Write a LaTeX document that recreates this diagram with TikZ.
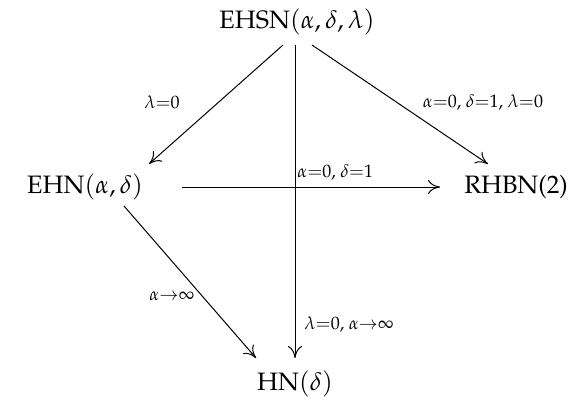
\documentclass[tikz,border=0pt]{standalone}
\usepackage[T1]{fontenc}
\usepackage{mathpazo}
\usetikzlibrary{arrows.meta}
\begin{document}
\begin{tikzpicture}[x=0.5pt,y=-0.5pt,
  obj/.style={font=\fontsize{12.6}{15}\selectfont, inner sep=2pt},
  lab/.style={font=\small, inner sep=1pt},
  arr/.style={-{To[length=6pt,width=7pt]}, line width=0.5pt}]
\useasboundingbox (0,0) rectangle (571,412);
\node[obj] (ehsn) at (297,22) {EHSN$(\alpha,\delta,\lambda)$};
\node[obj] (ehn) at (85,187) {EHN$(\alpha,\delta)$};
\node[obj] (rhbn) at (516,187) {RHBN(2)};
\node[obj] (hn) at (295,384) {HN$(\delta)$};
\coordinate (t1) at (283,45);
\coordinate (t2) at (312,45);
\coordinate (t3) at (295,45);
\coordinate (e1) at (149,164);
\coordinate (e2) at (488,164);
\coordinate (e3) at (295,358);
\coordinate (h1) at (182,187);
\coordinate (h2) at (440,187);
\coordinate (d1) at (124,206);
\coordinate (d2) at (256,358);
\draw[arr] (t1) -- (e1);
\draw[arr] (t2) -- (e2);
\draw[arr] (t3) -- (e3);
\draw[arr] (h1) -- (h2);
\draw[arr] (d1) -- (d2);
\node[lab] (l1) at (162,102) {$\lambda{=}0$};
\node[lab] (l2) at (483,103) {$\alpha{=}0$, $\delta{=}1$, $\lambda{=}0$};
\node[lab,anchor=west] (l3) at (295,173) {$\alpha{=}0$, $\delta{=}1$};
\node[lab] (l4) at (172,296) {$\alpha{\to}\infty$};
\node[lab,anchor=west] (l5) at (302,325) {$\lambda{=}0$, $\alpha{\to}\infty$};
\end{tikzpicture}
\end{document}
